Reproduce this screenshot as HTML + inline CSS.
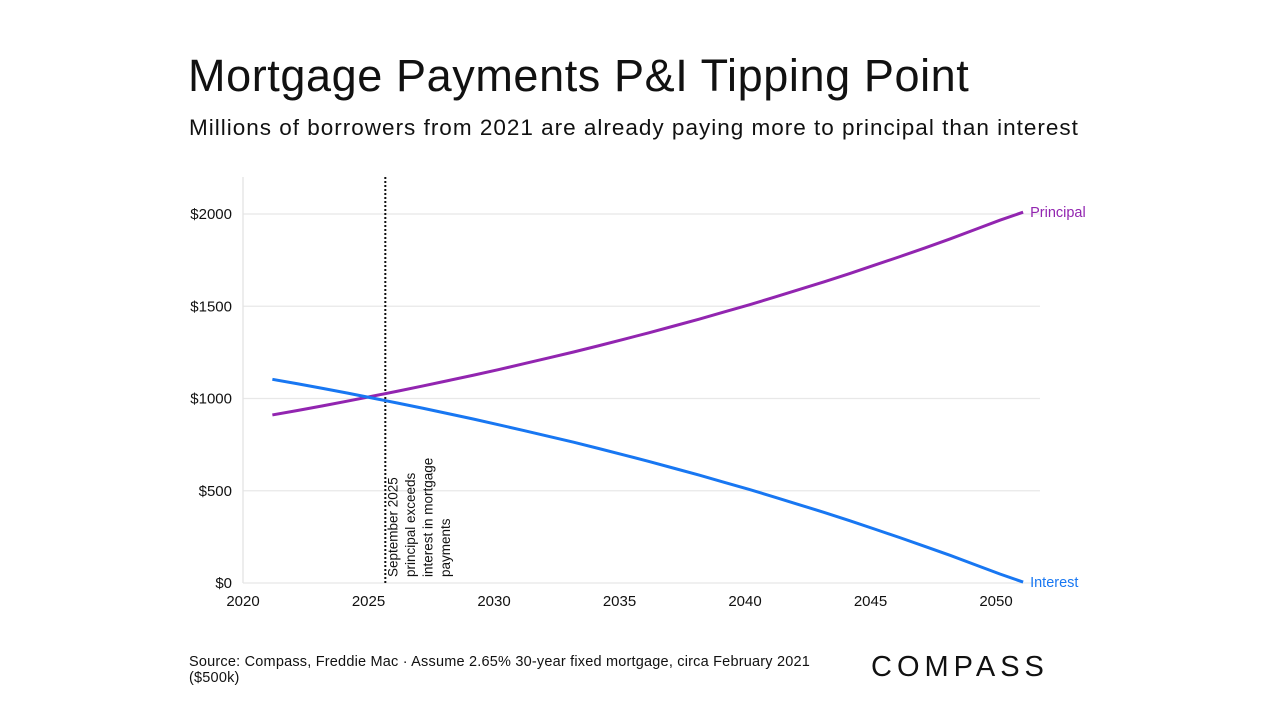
<!DOCTYPE html>
<html><head><meta charset="utf-8"><style>
body{margin:0;width:1280px;height:720px;background:#fff;font-family:"Liberation Sans",sans-serif;overflow:hidden;position:relative}
.t{position:absolute;white-space:nowrap;color:#111}
</style></head><body>
<div class="t" style="left:188px;top:50px;font-size:45px;letter-spacing:0.6px">Mortgage Payments P&amp;I Tipping Point</div>
<div class="t" style="left:189px;top:115px;font-size:22.5px;letter-spacing:1px">Millions of borrowers from 2021 are already paying more to principal than interest</div>
<svg id="c" width="1280" height="720" style="position:absolute;left:0;top:0"></svg>
<div class="t" style="left:189px;top:654px;font-size:14.5px;line-height:16px;letter-spacing:0.2px">Source: Compass, Freddie Mac · Assume 2.65% 30-year fixed mortgage, circa February 2021<br>($500k)</div>
<div class="t" style="left:871px;top:651px;font-size:29px;letter-spacing:5px">COMPASS</div>
<script>
const years=[2021.17,2022.17,2023.17,2024.17,2025.17,2026.17,2027.17,2028.17,2029.17,2030.17,2031.17,2032.17,2033.17,2034.17,2035.17,2036.17,2037.17,2038.17,2039.17,2040.17,2041.17,2042.17,2043.17,2044.17,2045.17,2046.17,2047.17,2048.17,2049.17,2050.17,2051.08];
const principal=[911,935,960,986,1013,1040,1068,1097,1126,1156,1188,1220,1252,1286,1321,1356,1393,1430,1469,1508,1549,1591,1633,1677,1723,1769,1816,1865,1916,1967,2010];
const interest=[1104,1080,1055,1029,1002,975,947,918,889,858,827,795,763,729,694,659,622,585,546,507,466,424,382,338,292,246,198,150,99,48,5];
const xTicks=[2020,2025,2030,2035,2040,2045,2050];
const yTicks=[0,500,1000,1500,2000];
const tipYear=2025.67;
const X=v=>243+(v-2020)*25.1, Y=v=>583-v*0.1845;
const s=document.getElementById('c'),NS='http://www.w3.org/2000/svg';
function el(t,a,txt){const e=document.createElementNS(NS,t);for(const k in a)e.setAttribute(k,a[k]);if(txt!=null)e.textContent=txt;s.appendChild(e);return e;}
yTicks.forEach(v=>{
const g=el('line',{x1:243,x2:1040,y1:Y(v),y2:Y(v),stroke:'#e8e8e8','stroke-width':1.3});


const t=el('text',{x:232,y:Y(v)+5,'text-anchor':'end','font-size':15,fill:'#111'},'$'+v);


});
const ax=el('line',{x1:243,x2:243,y1:177,y2:583,stroke:'#e3e3e3','stroke-width':1.3});


xTicks.forEach(v=>{
const t=el('text',{x:X(v),y:606,'text-anchor':'middle','font-size':15,fill:'#111'},v);


});
const vl=el('line',{x1:X(tipYear),x2:X(tipYear),y1:177,y2:583,stroke:'#111','stroke-width':2,'stroke-dasharray':'2 2'});


const ann=['September 2025','principal exceeds','interest in mortgage','payments'];
ann.forEach((l,i)=>{const x=X(tipYear)+12+i*17.5;const t=el('text',{x:x,y:577,'font-size':13.5,fill:'#111',transform:`rotate(-90 ${x} 577)`},l);

});
function line(vals,color,name,label){
const p=el('polyline',{points:vals.map((v,i)=>X(years[i])+','+Y(v)).join(' '),fill:'none',stroke:color,'stroke-width':3,'stroke-linejoin':'round'});


const n=vals.length-1;
const t=el('text',{x:X(years[n])+7,y:Y(vals[n])+5,'font-size':14.5,fill:color},label);


}
line(principal,'#9225b0','principal-line','Principal');
line(interest,'#1877f2','interest-line','Interest');
</script>
</body></html>
